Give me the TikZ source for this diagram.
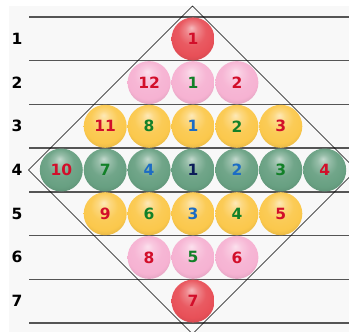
\documentclass[tikz,border=0pt]{standalone}
\usepackage{fontspec}
\setmainfont{DejaVu Sans}
\usetikzlibrary{positioning}

\definecolor{ballred}{RGB}{232,80,88}
\definecolor{ballpink}{RGB}{246,178,210}
\definecolor{ballyellow}{RGB}{251,200,76}
\definecolor{ballgreen}{RGB}{104,160,130}
\definecolor{numred}{RGB}{210,14,42}
\definecolor{numgreen}{RGB}{18,128,40}
\definecolor{numblue}{RGB}{28,108,196}
\definecolor{numnavy}{RGB}{12,28,88}
\definecolor{paper}{RGB}{248,248,248}
\definecolor{rulegray}{RGB}{85,85,85}

% soft sphere shading, highlight near the top
\makeatletter
\pgfdeclareradialshading[tikz@ball]{softball}{\pgfpoint{-2bp}{13bp}}{%
  color(0bp)=(tikz@ball!40!white);
  color(7bp)=(tikz@ball!70!white);
  color(16bp)=(tikz@ball!94!white);
  color(25bp)=(tikz@ball);
  color(34bp)=(tikz@ball!86!black);
  color(45bp)=(tikz@ball!80!black)}
\makeatother

\begin{document}
\begin{tikzpicture}[
    x=1pt, y=-1pt,
    sphere/.style={
        circle,
        minimum size=43pt,
        inner sep=0pt,
        ball color=#1,
        shading=softball,
        font=\fontsize{15.5}{15.5}\selectfont\bfseries
    },
    rowlabel/.style={
        font=\fontsize{15.5}{15.5}\selectfont\bfseries,
        text=black
    },
    rowline/.style={
        draw=rulegray,
        line width=1.4pt
    },
    frame/.style={
        draw=black,
        line width=0.7pt
    }
]

\useasboundingbox (0,0) rectangle (349,332);
\clip (0,0) rectangle (349,332);
\fill[paper] (9,6) rectangle (349,332);

% Row lines and labels
\foreach \i in {0,...,7}
    \draw[rowline] (29,{17+43.7*\i}) -- (349,{17+43.7*\i});
\foreach \i in {1,...,7}
    \node[rowlabel] (lab\i) at (17,{17+43.7*(\i-0.5)}) {\i};

% Row 1
\node[sphere=ballred, text=numred] (r1c0) at (193,38.9) {1};

% Row 2
\node[sphere=ballpink, text=numgreen] (r2c0) at (193,82.6) {1};
\node[sphere=ballpink, text=numred, left=0.5pt of r2c0] (r2l1) {12};
\node[sphere=ballpink, text=numred, right=0.5pt of r2c0] (r2r1) {2};

% Row 3
\node[sphere=ballyellow, text=numblue] (r3c0) at (193,126.3) {1};
\node[sphere=ballyellow, text=numgreen, left=0.5pt of r3c0] (r3l1) {8};
\node[sphere=ballyellow, text=numred, left=0.5pt of r3l1] (r3l2) {11};
\node[sphere=ballyellow, text=numgreen, right=0.5pt of r3c0] (r3r1) {2};
\node[sphere=ballyellow, text=numred, right=0.5pt of r3r1] (r3r2) {3};

% Row 4
\node[sphere=ballgreen, text=numnavy] (r4c0) at (193,170) {1};
\node[sphere=ballgreen, text=numblue, left=0.5pt of r4c0] (r4l1) {4};
\node[sphere=ballgreen, text=numgreen, left=0.5pt of r4l1] (r4l2) {7};
\node[sphere=ballgreen, text=numred, left=0.5pt of r4l2] (r4l3) {10};
\node[sphere=ballgreen, text=numblue, right=0.5pt of r4c0] (r4r1) {2};
\node[sphere=ballgreen, text=numgreen, right=0.5pt of r4r1] (r4r2) {3};
\node[sphere=ballgreen, text=numred, right=0.5pt of r4r2] (r4r3) {4};

% Row 5
\node[sphere=ballyellow, text=numblue] (r5c0) at (193,213.7) {3};
\node[sphere=ballyellow, text=numgreen, left=0.5pt of r5c0] (r5l1) {6};
\node[sphere=ballyellow, text=numred, left=0.5pt of r5l1] (r5l2) {9};
\node[sphere=ballyellow, text=numgreen, right=0.5pt of r5c0] (r5r1) {4};
\node[sphere=ballyellow, text=numred, right=0.5pt of r5r1] (r5r2) {5};

% Row 6
\node[sphere=ballpink, text=numgreen] (r6c0) at (193,257.4) {5};
\node[sphere=ballpink, text=numred, left=0.5pt of r6c0] (r6l1) {8};
\node[sphere=ballpink, text=numred, right=0.5pt of r6c0] (r6r1) {6};

% Row 7
\node[sphere=ballred, text=numred] (r7c0) at (193,301.1) {7};

% Diamond
\coordinate (top) at (192.5,6);
\coordinate (left) at (28.5,170);
\coordinate (bottom) at (192.5,334);
\coordinate (right) at (356.5,170);
\draw[frame] (top) -- (right) -- (bottom) -- (left) -- cycle;

\end{tikzpicture}
\end{document}
